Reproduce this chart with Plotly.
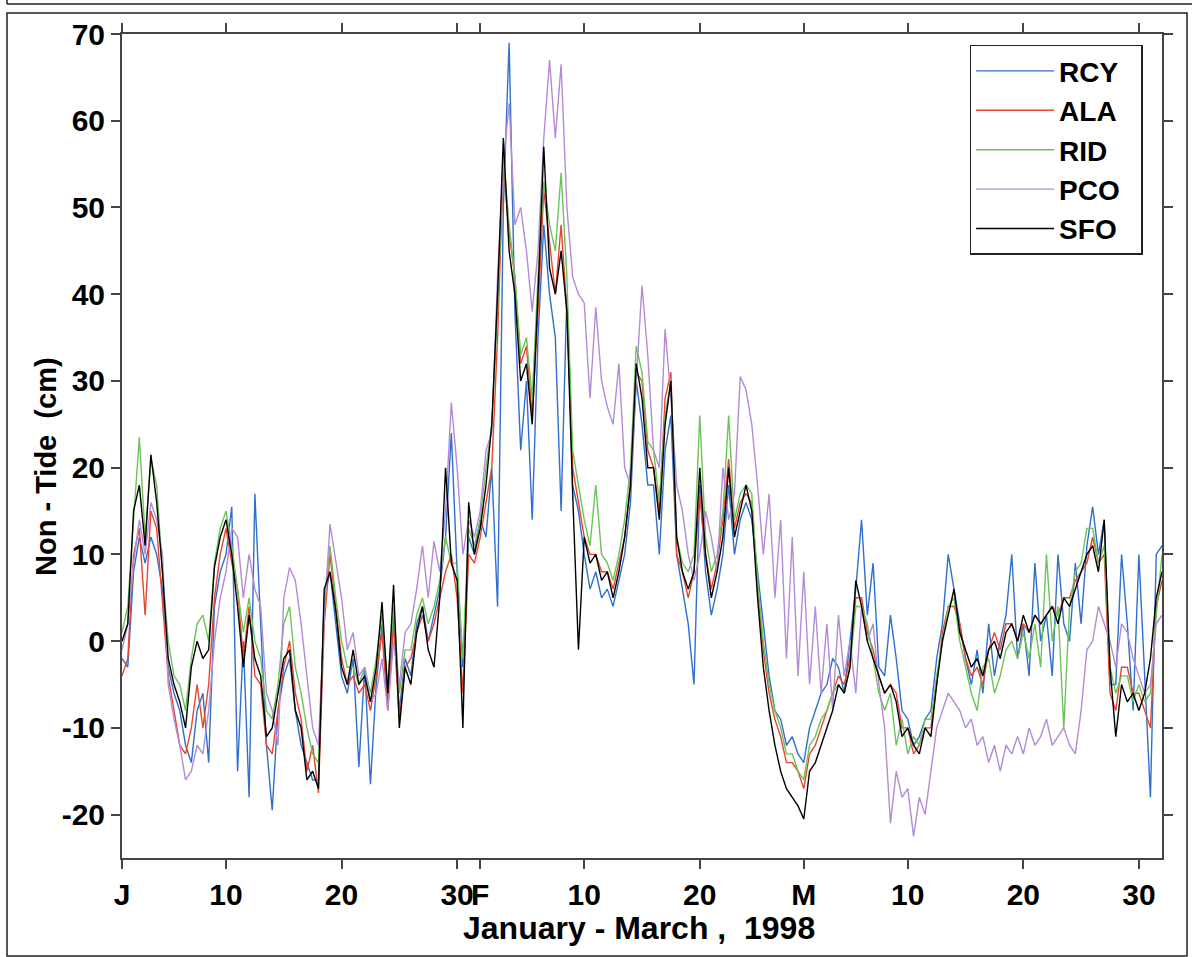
import plotly.graph_objects as go

# time grid: Jan 1 1998 = day 0, two samples per day (00h, 12h)
days = [i * 0.5 for i in range(181)]

SFO = [0,2, 15,18, 11,21.5, 16,8, -2,-5, -7,-10, -3,0, -2,-1, 8.5,12, 14,10,
       4,-3, 3,-2, -4,-11, -10,-6, -2,-1, -8,-10, -16,-15, -17,6, 8,3.5, -3,-5,
       -1,-5, -4,-7, -3,4.5, -6,6.5, -10,-3, -5,1, 4,-1, -3,5, 20,9, 7,-10,
       16,10, 13,18, 25,40, 58,45, 40,30, 32,25, 40,57, 43,40, 45,38, 17,-1,
       12,9, 10,7, 8,5, 8,12, 18,32, 28,20, 20,14, 25,30, 12,8, 6,8,
       20,10, 5,8, 12,20, 12,15, 18,15, 5,-3, -8,-12, -15,-17, -18,-19, -20.5,-15,
       -14,-12, -10,-8, -5,-6, -3,7, 4,0, -2,-4, -6,-5, -7,-11, -10,-12, -13,-10,
       -11,-5, 0,3, 6,1, -1,-3, -2,-4, -1,0, -2,1, 2,0, 3,1, 3,2,
       3,4, 2,5, 4,6, 8,10, 11,8, 14,-3, -11,-5, -7,-6, -8,-6, -2,5,
       8]

RCY = [-2,-3, 8,12, 9,12, 10,6, -3,-6, -8,-12, -14,-8, -6,-14, 4,8, 10,15.5,
       -15,0, -18,17, 2,-12, -19.5,-8, -4,-2, -8,-12, -14,-16, -16,5, 8,2, -4,-6,
       -2,-14.5, -3,-16.5, -5,2, -7,3, -8,-2, -4,2, 4,0, 3,6, 12,24, 8,-3,
       12,10, 14,12, 20,4, 50,69, 38,22, 30,14, 35,48, 40,35, 15,40, 18,15,
       10,6, 8,5, 6,4, 7,10, 16,30, 25,18, 18,10, 22,26, 10,6, 2,-5,
       18,8, 3,6, 10,18, 10,14, 16,14, 8,2, -4,-8, -9,-12, -11,-13, -14,-10,
       -8,-6, -5,-2, -3,-6, 0,6, 14,3, 9,-3, -4,3, -2,-8, -9,-12, -11,-9,
       -8,-2, 2,10, 6,2, -2,-5, -1,-6, 2,-4, 0,3, 10,-2, 2,-4, 9,0,
       3,-4, 10,2, 0,9, 2,11, 15.5,10, 14,-5, -5,10, 2,-8, 10,-4, -18,10,
       11]

ALA = [-4,-2, 10,13, 3,15, 13,5, -4,-8, -12,-13, -10,-5, -10,-5, 5,10, 13,9,
       6,-2, 4,-4, -5,-12, -13,-8, -3,0, -6,-9, -15,-12, -17.5,2, 10,4, -2,-5,
       -4,-6, -5,-8, -4,1, -8,2, -9,-3, -2,1, 3,0, 2,5, 8,10, 5,-6,
       10,9, 12,16, 20,35, 55,47, 42,32, 34,26, 38,52, 46,40, 48,38, 20,16,
       12,10, 10,8, 8,6, 9,12, 18,31, 30,22, 20,15, 28,31, 10,8, 5,8,
       17,10, 6,9, 14,21, 13,16, 17,16, 6,-1, -6,-9, -11,-14, -14,-15, -17,-13,
       -12,-10, -8,-6, -4,-5, -2,5, 5,1, -1,-4, -6,-5, -6,-10, -10,-13, -12,-10,
       -10,-5, 1,4, 4,2, -2,-4, -3,-5, -1,1, -1,2, 2,0, 2,1, 3,2,
       3,4, 3,5, 5,7, 8,9, 12,9, 10,-6, -8,-3, -3,-6, -6,-8, -10,4,
       7]

RID = [1,4, 14,23.5, 12,21, 18,8, 0,-4, -5,-8, -2,2, 3,0, 9,13, 15,11,
       6,1, 5,0, -2,-8, -9,-5, 2,4, -3,-6, -10,-13, -14,4, 11,5, 0,-3,
       -3,-5, -3,-6, -2,3, -5,4, -6,-1, -1,3, 5,2, 4,7, 12,9, 9,-2,
       13,11, 14,20, 25,38, 56,48, 42,33, 35,28, 42,53, 48,45, 54,42, 22,18,
       14,11, 18,10, 9,7, 10,14, 20,34, 31,23, 22,16, 26,30, 12,9, 8,10,
       26,12, 8,10, 15,26, 14,17, 18,17, 7,0, -5,-8, -10,-13, -13,-15, -16,-12,
       -11,-9, -8,-6, -5,-6, -3,4, 4,2, -2,-6, -8,-6, -12,-9, -13,-11, -12,-9,
       -9,-4, 0,4, 5,0, -3,-6, -8,-3, -2,-6, -4,-1, 0,-2, 1,-2, 2,-3,
       10,0, 4,-10, 4,8, 9,13, 13,9, 11,-3, -6,-4, -4,-7, -5,-7, -6,3,
       10]

PCO = [-1,2, 9,14, 10,16, 14,10, -5,-9, -12,-16, -15,-12, -13,-8, 0,5, 8,13,
       12,5, 10,6, 4,-6, -8,-12, 5,8.5, 7,2, -4,-10, -12,3, 13.5,9, 5,-1,
       1,-4, -3,-7, -6,-2, -8,0, -5,1, 2,6, 11,5, 11.5,8, 15,27.5, 20,10,
       14,12, 15,22, 24,42, 55,62, 48,50, 45,38, 45,58, 67,58, 66.5,50, 42,40,
       39,28, 38.5,30, 27,25, 32,20, 18,30, 41,33, 22,20, 36,28, 18,15, 10,7,
       10,15, 12,8, 20,14, 17,30.5, 29,25, 18,10, 17,5, 14,-2, 12,-4, 8,-5,
       4,-6, 2,-8, 3,-4, 0,-6, 4,0, 2,-5, -10,-21, -15,-18, -17,-22.5, -18,-20,
       -15,-10, -8,-6, -7,-8, -10,-9, -12,-11, -14,-12, -15,-12, -13,-11, -13,-10, -12,-11,
       -9,-12, -11,-10, -12,-13, -8,-1, 0,4, 2,0, -3,2, 1,-2, -4,-6, -5,2,
       3]

names = ["RCY", "ALA", "RID", "PCO", "SFO"]
series = [RCY, ALA, RID, PCO, SFO]
colors = ["#2f6fcf", "#e8452f", "#6cc35a", "#b58ad6", "#000000"]

tick_vals = [0, 9, 19, 29, 31, 40, 50, 59, 68, 78, 88]
tick_text = ["J", "10", "20", "30", "F", "10", "20", "M", "10", "20", "30"]
y_ticks = [-20, -10, 0, 10, 20, 30, 40, 50, 60, 70]
y_text = ["-20", "-10", "0", "10", "20", "30", "40", "50", "60", "70"]

fig = go.Figure()
for n, s, c in zip(names, series, colors):
    fig.add_trace(go.Scatter(x=days[:len(s)], y=s, mode="lines", name=n + "\u00a0\u00a0",
                             line=dict(color=c, width=1.4)))

FONT = "Liberation Sans, Arial, Helvetica, sans-serif"
axcol = "#444444"
tfont = dict(family=FONT, size=30, color="black", weight="bold")

fig.update_layout(
    width=1192, height=957,
    margin=dict(l=122, r=30, t=34, b=99),
    paper_bgcolor="white", plot_bgcolor="white",
    font=dict(family=FONT, size=30, color="black", weight="bold"),
    showlegend=True,
    legend=dict(x=0.815, y=0.987, xanchor="left", yanchor="top",
                bgcolor="white", bordercolor="#222222", borderwidth=1.5,
                font=dict(family=FONT, size=28, color="black", weight="bold"),
                itemwidth=78, tracegroupgap=0),
    xaxis=dict(range=[0, 90], tickmode="array", tickvals=tick_vals, ticktext=tick_text,
               ticks="outside", ticklen=9, tickwidth=1.5, tickcolor=axcol,
               showline=True, linecolor=axcol, linewidth=2, mirror="ticks",
               showgrid=False, zeroline=False, tickangle=0, tickfont=tfont),
    yaxis=dict(range=[-25, 70], tickmode="array", tickvals=y_ticks, ticktext=y_text,
               ticks="outside", ticklen=9, tickwidth=1.5, tickcolor=axcol,
               showline=True, linecolor=axcol, linewidth=2, mirror="ticks",
               showgrid=False, zeroline=False, tickfont=tfont),
)

def px_x(p):
    return (p - 122) / 1040.0

def px_y(p):
    return (858 - p) / 824.0

# axis titles
fig.add_annotation(text="January - March ,\u00a0 1998", xref="paper", yref="paper",
                   x=px_x(639), y=px_y(928), xanchor="center", yanchor="middle",
                   showarrow=False, font=dict(family=FONT, size=32, color="black", weight="bold"))
fig.add_annotation(text="Non - Tide\u00a0 (cm)", xref="paper", yref="paper",
                   x=px_x(46), y=px_y(467), xanchor="center", yanchor="middle",
                   textangle=-90, showarrow=False,
                   font=dict(family=FONT, size=29, color="black", weight="bold"))

# outer frames of the figure panel
fig.add_shape(type="rect", xref="paper", yref="paper",
              x0=px_x(7), x1=px_x(1187), y0=px_y(956), y1=px_y(13),
              line=dict(color="#222222", width=1.5), fillcolor="rgba(0,0,0,0)", layer="below")
fig.add_shape(type="line", xref="paper", yref="paper",
              x0=px_x(7), x1=px_x(1200), y0=px_y(4), y1=px_y(4),
              line=dict(color="#222222", width=1.5))
fig.add_shape(type="line", xref="paper", yref="paper",
              x0=px_x(7), x1=px_x(7), y0=px_y(4), y1=px_y(-2),
              line=dict(color="#222222", width=1.5))

fig.write_html("out.html")
